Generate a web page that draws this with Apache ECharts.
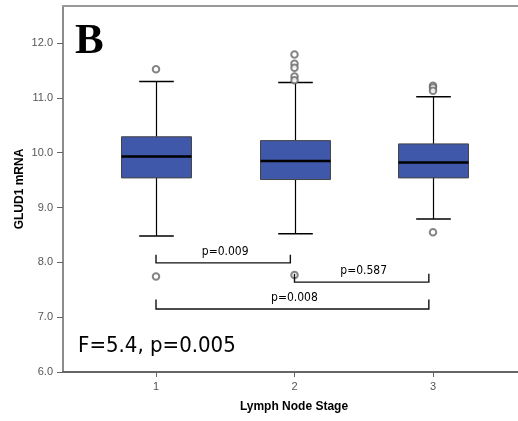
<!DOCTYPE html>
<html>
<head>
<meta charset="utf-8">
<script src="https://cdn.jsdelivr.net/npm/echarts@6/dist/echarts.min.js"></script>
<style>
html,body{margin:0;padding:0;background:#fff;}
#chart{width:518px;height:421px;}
</style>
</head>
<body>
<div id="chart"></div>
<script>
// ---- data ----
const categories = [1, 2, 3];
const xTickLabels = ['1', '2', '3'];
const yTickValues = [6, 7, 8, 9, 10, 11, 12];
const boxMin = [8.48, 8.52, 8.79];
const boxQ1 = [9.54, 9.51, 9.54];
const boxMedian = [9.93, 9.85, 9.82];
const boxQ3 = [10.29, 10.22, 10.16];
const boxMax = [11.30, 11.28, 11.02];
const outlierStage = [1, 1, 2, 2, 2, 2, 2, 2, 3, 3, 3, 3];
const outlierValue = [11.52, 7.74, 11.79, 11.62, 11.55, 11.39, 11.32, 7.77, 11.22, 11.19, 11.13, 8.55];
const bracketStart = [1, 2, 1];
const bracketEnd = [1.97, 2.97, 2.97];
const bracketLevel = [7.99, 7.64, 7.15];
const bracketTickTop = [8.14, 7.79, 7.32];
const bracketLabels = ['p=0.009', 'p=0.587', 'p=0.008'];
const panelLabel = 'B';
const statText = 'F=5.4, p=0.005';
const xName = 'Lymph Node Stage';
const yName = 'GLUD1 mRNA';

// ---- build ----
const boxData = categories.map((c, i) => [c, boxMin[i], boxQ1[i], boxMedian[i], boxQ3[i], boxMax[i]]);
const outlierData = outlierStage.map((s, i) => [s, outlierValue[i]]);
const bracketData = bracketStart.map((s, i) => [s, bracketEnd[i], bracketLevel[i], bracketTickTop[i], bracketLabels[i]]);

const BOX_W = 0.505;
const CAP_W = 0.25;

const chart = echarts.init(document.getElementById('chart'), null, {renderer: 'canvas'});
const xMin = 0.3285, xMax = 3.6137;
chart.setOption({
  animation: false,
  backgroundColor: '#fff',
  graphic: [
    {type: 'text', left: 75, top: 20, style: {text: panelLabel, font: 'bold 43px "Liberation Serif", serif', fill: '#000'}},
    {type: 'text', left: 78, top: 335, style: {text: statText, font: '22px "DejaVu Sans Condensed", "DejaVu Sans", sans-serif', fill: '#000'}}
  ],
  grid: {left: 63, right: 0, top: 6, bottom: 49},
  xAxis: [{
    type: 'value', min: xMin, max: xMax,
    axisLine: {show: true, lineStyle: {color: '#666', width: 2}},
    axisTick: {show: true, length: 5, customValues: categories, lineStyle: {color: '#666', width: 1}},
    axisLabel: {show: true, customValues: categories, margin: 9, color: '#555', fontSize: 11,
      fontFamily: '"Liberation Sans", Arial, sans-serif',
      formatter: v => xTickLabels[categories.indexOf(Math.round(v))] || ''},
    splitLine: {show: false},
    name: xName, nameLocation: 'middle', nameGap: 29, nameMoveOverlap: false,
    nameTextStyle: {fontWeight: 'bold', fontSize: 12, color: '#000', fontFamily: '"Liberation Sans", Arial, sans-serif', padding: [0, 0, 0, 7]}
  }, {
    type: 'value', position: 'top', min: xMin, max: xMax,
    axisLine: {show: true, lineStyle: {color: '#999', width: 2}},
    axisTick: {show: false}, axisLabel: {show: false}, splitLine: {show: false}
  }],
  yAxis: {
    type: 'value', min: 6, max: 12.675,
    axisLine: {show: true, lineStyle: {color: '#666', width: 1.5}},
    axisTick: {show: true, length: 6, customValues: yTickValues, lineStyle: {color: '#666'}},
    axisLabel: {show: true, customValues: yTickValues, margin: 10, color: '#555', fontSize: 11,
      fontFamily: '"Liberation Sans", Arial, sans-serif', formatter: v => v.toFixed(1)},
    splitLine: {show: false},
    name: yName, nameLocation: 'middle', nameGap: 37, nameMoveOverlap: false,
    nameTextStyle: {fontWeight: 'bold', fontSize: 12, color: '#000', fontFamily: '"Liberation Sans", Arial, sans-serif'}
  },
  series: [
    {
      type: 'custom', xAxisIndex: 0, yAxisIndex: 0,
      data: boxData,
      encode: {x: 0, y: [1, 2, 3, 4, 5]},
      renderItem: function (params, api) {
        const x = api.value(0);
        const pMin = api.coord([x, api.value(1)]);
        const pQ1 = api.coord([x, api.value(2)]);
        const pMed = api.coord([x, api.value(3)]);
        const pQ3 = api.coord([x, api.value(4)]);
        const pMax = api.coord([x, api.value(5)]);
        const hw = api.size([BOX_W, 0])[0] / 2;
        const cw = api.size([CAP_W, 0])[0] / 2;
        const cx = Math.round(pMed[0]) + 0.5;
        const line = (x1, y1, x2, y2, w, c) => ({type: 'line', shape: {x1, y1, x2, y2}, style: {stroke: c || '#000', lineWidth: w || 1, fill: null}});
        return {type: 'group', children: [
          line(cx, pMax[1], cx, pQ3[1], 1.2),
          line(cx, pQ1[1], cx, pMin[1], 1.2),
          line(cx - cw, pMax[1], cx + cw, pMax[1], 1.5),
          line(cx - cw, pMin[1], cx + cw, pMin[1], 1.5),
          {type: 'rect', shape: {x: cx - hw, y: pQ3[1], width: 2 * hw, height: pQ1[1] - pQ3[1]},
            style: {fill: '#3F58A9', stroke: '#444', lineWidth: 1}},
          line(cx - hw, pMed[1], cx + hw, pMed[1], 2.5, '#000')
        ]};
      },
      z: 2
    },
    {
      type: 'scatter', xAxisIndex: 0, yAxisIndex: 0,
      data: outlierData, symbol: 'emptyCircle', symbolSize: 6.5,
      itemStyle: {color: '#666', borderColor: '#666', borderWidth: 1},
      z: 3
    },
    {
      type: 'custom', xAxisIndex: 0, yAxisIndex: 0,
      data: bracketData,
      encode: {x: [0, 1], y: [2, 3]},
      renderItem: function (params, api) {
        const p1 = api.coord([api.value(0), api.value(2)]);
        const p2 = api.coord([api.value(1), api.value(2)]);
        const t1 = api.coord([api.value(0), api.value(3)]);
        const label = bracketData[params.dataIndex][4];
        return {type: 'group', children: [
          {type: 'polyline', shape: {points: [[p1[0], t1[1]], [p1[0], p1[1]], [p2[0], p2[1]], [p2[0], t1[1]]]},
            style: {stroke: '#111', lineWidth: 1.4, fill: null}},
          {type: 'text', style: {text: label, x: (p1[0] + p2[0]) / 2 + 2, y: p1[1] - 5,
            align: 'center', verticalAlign: 'bottom', fill: '#000',
            font: '12px "DejaVu Sans Condensed", "DejaVu Sans", sans-serif'}}
        ]};
      },
      z: 4
    }
  ]
});
</script>
</body>
</html>
